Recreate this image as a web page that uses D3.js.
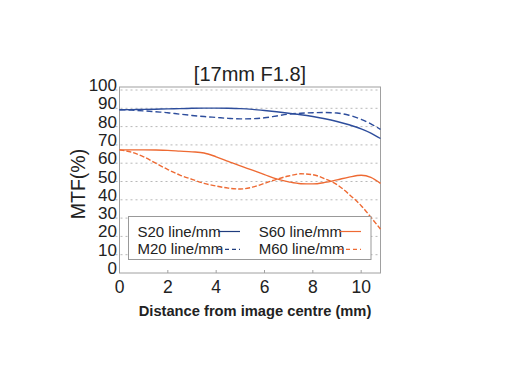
<!DOCTYPE html>
<html>
<head>
<meta charset="utf-8">
<script src="https://cdn.jsdelivr.net/npm/d3@7/dist/d3.min.js"></script>
<style>
  html, body { margin: 0; padding: 0; background: #fff; }
  svg { display: block; }
  text { font-family: "Liberation Sans", Arial, sans-serif; fill: #222; }
</style>
</head>
<body>
<svg id="chart" width="508" height="382"></svg>
<script>
// ---- data ----
const title = "[17mm F1.8]";
const xLabel = "Distance from image centre (mm)";
const yLabel = "MTF(%)";
const xTicks = [0, 2, 4, 6, 8, 10];
const yTicks = [0, 10, 20, 30, 40, 50, 60, 70, 80, 90, 100];
const distance = [0, 0.5, 1, 1.5, 2, 2.5, 3, 3.5, 4, 4.5, 5, 5.5, 6, 6.5, 7, 7.5, 8, 8.5, 9, 9.5, 10, 10.4, 10.8];
const s20 = [89.2, 89.3, 89.4, 89.5, 89.7, 89.8, 90.0, 90.1, 90.1, 90.0, 89.8, 89.4, 88.8, 88.1, 87.3, 86.5, 85.5, 84.3, 82.8, 81.0, 78.8, 76.5, 73.5];
const m20 = [89.2, 89.0, 88.6, 88.1, 87.6, 86.8, 86.1, 85.5, 85.0, 84.5, 84.2, 84.3, 84.8, 85.8, 86.8, 87.3, 87.6, 87.7, 87.4, 86.2, 84.0, 81.5, 78.5];
const s60 = [67.3, 67.3, 67.3, 67.2, 67.0, 66.6, 66.2, 65.6, 63.5, 61.0, 58.5, 56.2, 53.8, 51.4, 49.8, 48.8, 48.7, 49.5, 50.9, 52.4, 53.4, 52.3, 49.0];
const m60 = [67.3, 66.0, 63.5, 60.0, 56.5, 53.5, 51.2, 49.0, 47.5, 46.4, 45.9, 46.9, 49.0, 51.2, 53.0, 54.2, 53.7, 51.5, 48.3, 43.0, 36.8, 30.5, 24.0];
const seriesNames = ["S20 line/mm", "M20 line/mm", "S60 line/mm", "M60 line/mm"];

// ---- styles ----
const BLUE = "#2d4d9c", ORANGE = "#ee6a33";
const series = [
  { name: seriesNames[0], values: s20, color: BLUE, dash: null },
  { name: seriesNames[1], values: m20, color: BLUE, dash: "6,3" },
  { name: seriesNames[2], values: s60, color: ORANGE, dash: null },
  { name: seriesNames[3], values: m60, color: ORANGE, dash: "5,2" }
];

const svg = d3.select("#chart");
const x = d3.scaleLinear().domain([0, 10.8]).range([119.5, 380.5]);
const y = d3.scaleLinear().domain([0, 100]).range([273, 90]);
const frameTop = 87;

// gridlines
svg.append("g").selectAll("line").data(yTicks.filter(d => d > 0)).join("line")
  .attr("x1", x(0) - 4).attr("x2", x.range()[1])
  .attr("y1", d => y(d)).attr("y2", d => y(d))
  .attr("stroke", "#b8b8b8").attr("stroke-width", 1).attr("stroke-dasharray", "2,3");

// frame
svg.append("rect")
  .attr("x", x(0)).attr("y", frameTop)
  .attr("width", x.range()[1] - x(0)).attr("height", y(0) - frameTop)
  .attr("fill", "none").attr("stroke", "#a0a0a0").attr("stroke-width", 1);

// x inner ticks
svg.append("g").selectAll("line").data(xTicks.filter(d => d > 0)).join("line")
  .attr("x1", d => x(d)).attr("x2", d => x(d))
  .attr("y1", y(0)).attr("y2", y(0) - 3)
  .attr("stroke", "#a0a0a0");

// y tick labels
svg.append("g").selectAll("text").data(yTicks).join("text")
  .attr("x", 117).attr("y", d => y(d) + 1)
  .attr("text-anchor", "end").attr("font-size", 17)
  .text(d => d);

// x tick labels
svg.append("g").selectAll("text").data(xTicks).join("text")
  .attr("x", d => x(d)).attr("y", 293)
  .attr("text-anchor", "middle").attr("font-size", 17.5)
  .text(d => d);

// lines
const line = d3.line().curve(d3.curveMonotoneX);
series.forEach(s => {
  svg.append("path")
    .attr("d", line(distance.map((d, i) => [x(d), y(s.values[i])])))
    .attr("fill", "none").attr("stroke", s.color).attr("stroke-width", 1.4)
    .attr("stroke-dasharray", s.dash);
});

// legend
const lg = svg.append("g");
lg.append("rect").attr("x", 128.5).attr("y", 216.5).attr("width", 242.5).attr("height", 43)
  .attr("fill", "#fff").attr("stroke", "#999").attr("stroke-width", 1);
const legPos = [
  { tx: 137.5, ty: 236.5, lx1: 218, lx2: 240, ly: 231.5 },
  { tx: 137.5, ty: 254.3, lx1: 218, lx2: 240, ly: 249.3 },
  { tx: 258.7, ty: 236.5, lx1: 339, lx2: 361, ly: 231.5 },
  { tx: 258.7, ty: 254.3, lx1: 339, lx2: 361, ly: 249.3 }
];
series.forEach((s, i) => {
  const p = legPos[i];
  lg.append("text").attr("x", p.tx).attr("y", p.ty).attr("font-size", 15).text(s.name);
  lg.append("line").attr("x1", p.lx1).attr("x2", p.lx2).attr("y1", p.ly).attr("y2", p.ly)
    .attr("stroke", s.color === BLUE ? "#1f3c7e" : s.color).attr("stroke-width", 1.2)
    .attr("stroke-dasharray", s.dash ? "4,3" : null);
});

// title
svg.append("text").attr("x", 250).attr("y", 80.5).attr("text-anchor", "middle")
  .attr("font-size", 20).text(title);

// y label
svg.append("text").attr("transform", "translate(85,184) rotate(-90)")
  .attr("text-anchor", "middle").attr("font-size", 19.5).text(yLabel);

// x label
svg.append("text").attr("x", 255).attr("y", 315.5).attr("text-anchor", "middle")
  .attr("font-size", 14.7).attr("font-weight", "bold").text(xLabel);
</script>
</body>
</html>
